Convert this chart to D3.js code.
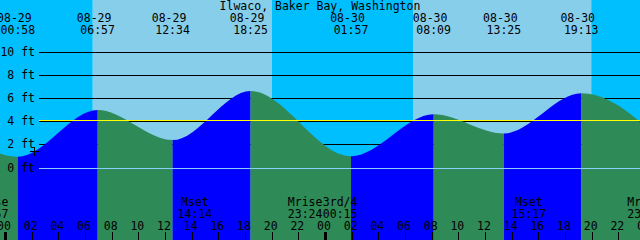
<!DOCTYPE html>
<html>
<head>
<meta charset="utf-8">
<script src="https://cdn.jsdelivr.net/npm/d3@7"></script>
<style>
body { margin: 0; background: #fff; }
svg { display: block; }
text { font-family: "DejaVu Sans Mono", monospace; font-size: 11.5px; fill: #000; }
</style>
</head>
<body>
<svg width="640" height="240"></svg>
<script>
var title = "Ilwaco, Baker Bay, Washington";

// tide highs and lows (local time), heights in ft
var tideTimes = ["2021-08-28 17:48", "2021-08-29 00:58", "2021-08-29 06:57", "2021-08-29 12:34",
                 "2021-08-29 18:25", "2021-08-30 01:57", "2021-08-30 08:09", "2021-08-30 13:25",
                 "2021-08-30 19:13", "2021-08-31 02:50"];
var tideHeights = [6.7, 0.92, 4.95, 2.36, 6.6, 0.98, 4.6, 2.94, 6.4, 0.35];

// sun
var sunTimes = ["2021-08-29 06:35", "2021-08-29 20:00", "2021-08-30 06:36", "2021-08-30 19:58"];
var sunKinds = ["rise", "set", "rise", "set"];

// moon
var moonTimes = ["2021-08-28 22:57", "2021-08-29 14:14", "2021-08-29 23:24", "2021-08-30 00:15",
                 "2021-08-30 15:17", "2021-08-30 23:58"];
var moonNames = ["Mrise", "Mset", "Mrise", "3rd/4", "Mset", "Mrise"];

var depthTicks = [0, 2, 4, 6, 8, 10];
var mslLevel = 4.08;

var svg = d3.select("svg"),
    width = +svg.attr("width"),
    height = +svg.attr("height");

var parse = d3.timeParse("%Y-%m-%d %H:%M");
var fmtDate = d3.timeFormat("%m-%d"),
    fmtTime = d3.timeFormat("%H:%M"),
    fmtHour = d3.timeFormat("%H");

var t0 = new Date(+parse("2021-08-29 00:00") - 22.5 * 60000),
    t1 = new Date(+t0 + 48 * 3600000);

var x = d3.scaleTime().domain([t0, t1]).range([0, width]);
var y = d3.scaleLinear().domain([0, 10]).range([167.5, 51.5]);

var tides = tideTimes.map(function(t, i) { return {t: parse(t), h: tideHeights[i]}; });

// sky: night / day bands
var edges = [t0].concat(sunTimes.map(parse), [t1]);
var isDay = [sunKinds[0] === "set"].concat(sunKinds.map(function(k) { return k === "rise"; }));
svg.append("g").selectAll("rect")
    .data(d3.pairs(edges))
    .enter().append("rect")
        .attr("x", function(d) { return x(d[0]); })
        .attr("width", function(d) { return x(d[1]) - x(d[0]); })
        .attr("y", 0)
        .attr("height", height)
        .attr("fill", function(d, i) { return isDay[i] ? "#87ceeb" : "#00bfff"; });

// depth lines behind the water
svg.append("g").selectAll("line")
    .data(depthTicks.filter(function(d) { return d > 0; }))
    .enter().append("line")
        .attr("x1", 39).attr("x2", width)
        .attr("y1", function(d) { return Math.round(y(d)) + 0.5; })
        .attr("y2", function(d) { return Math.round(y(d)) + 0.5; })
        .attr("stroke", "#000");

// water
var area = d3.area()
    .x(function(d) { return x(d.t); })
    .y0(height)
    .y1(function(d) { return y(d.h); })
    .curve(d3.curveMonotoneX);

svg.append("clipPath").attr("id", "water")
    .append("path").attr("d", area(tides));

svg.append("g").attr("clip-path", "url(#water)")
    .selectAll("rect")
    .data(d3.pairs(tides))
    .enter().append("rect")
        .attr("x", function(d) { return x(d[0].t); })
        .attr("width", function(d) { return x(d[1].t) - x(d[0].t); })
        .attr("y", 0)
        .attr("height", height)
        .attr("fill", function(d) { return d[1].h > d[0].h ? "#0000ff" : "#2e8b57"; });

// mean sea level and datum
svg.append("line")
    .attr("x1", 39).attr("x2", width)
    .attr("y1", Math.round(y(mslLevel)) + 0.5).attr("y2", Math.round(y(mslLevel)) + 0.5)
    .attr("stroke", "#ffff00");
svg.append("line")
    .attr("x1", 39).attr("x2", width)
    .attr("y1", Math.round(y(0)) + 0.5).attr("y2", Math.round(y(0)) + 0.5)
    .attr("stroke", "#87cefa");

// depth labels
svg.append("g").selectAll("text")
    .data(depthTicks)
    .enter().append("text")
        .attr("x", 35)
        .attr("y", function(d) { return y(d) + 4; })
        .attr("text-anchor", "end")
        .text(function(d) { return d + " ft"; });

// marker
svg.append("path")
    .attr("d", "M30,151.5H39M34.5,147V156")
    .attr("stroke", "#000");

// title
svg.append("text")
    .attr("x", width / 2).attr("y", 9.5)
    .attr("text-anchor", "middle")
    .text(title);

// tide event labels
var tl = svg.append("g").selectAll("g")
    .data(tides)
    .enter().append("g");
tl.append("text")
    .attr("x", function(d) { return x(d.t) - 3.5; })
    .attr("y", 21.5)
    .attr("text-anchor", "middle")
    .text(function(d) { return fmtDate(d.t); });
tl.append("text")
    .attr("x", function(d) { return x(d.t); })
    .attr("y", 33.5)
    .attr("text-anchor", "middle")
    .text(function(d) { return fmtTime(d.t); });

// moon labels, pushed apart where they would overlap
var charW = 7;
var moon = moonTimes.map(function(t, i) {
    var d = parse(t);
    return {name: moonNames[i], t: d, cx: x(d), w: charW * Math.max(moonNames[i].length, 5)};
});
for (var i = 1; i < moon.length; i++) {
    var a = moon[i - 1], b = moon[i];
    var need = (a.w + b.w) / 2 - (b.cx - a.cx);
    if (need > 0) { a.cx -= need / 2; b.cx += need / 2; }
}
var ml = svg.append("g").selectAll("g")
    .data(moon)
    .enter().append("g");
ml.append("text")
    .attr("x", function(d) { return d.cx; })
    .attr("y", 206)
    .attr("text-anchor", "middle")
    .text(function(d) { return d.name; });
ml.append("text")
    .attr("x", function(d) { return d.cx; })
    .attr("y", 218)
    .attr("text-anchor", "middle")
    .text(function(d) { return fmtTime(d.t); });

// hour axis
var hours = d3.timeHour.every(2).range(d3.timeDay.floor(t0), d3.timeHour.offset(t1, 2));
svg.append("g").selectAll("text")
    .data(hours)
    .enter().append("text")
        .attr("x", function(d) { return x(d) - 1; })
        .attr("y", 230)
        .attr("text-anchor", "middle")
        .text(function(d) { return fmtHour(d); });
svg.append("g").selectAll("rect")
    .data(hours)
    .enter().append("rect")
        .attr("x", function(d) { return Math.round(x(d)) + (d.getHours() === 0 ? -1 : 0); })
        .attr("width", function(d) { return d.getHours() === 0 ? 3 : 1; })
        .attr("y", 232)
        .attr("height", 8)
        .attr("fill", "#000");
</script>
</body>
</html>
